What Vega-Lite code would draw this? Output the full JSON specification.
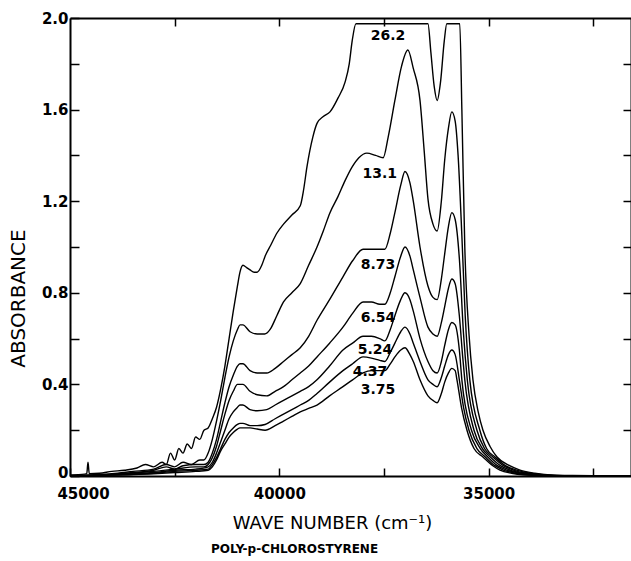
{
  "$schema": "https://vega.github.io/schema/vega-lite/v6.json",
  "width": 561,
  "height": 458,
  "autosize": {"type": "none"},
  "padding": {"left": 70, "top": 18, "right": 0, "bottom": 85},
  "background": "white",
  "config": {
    "view": {"stroke": null},
    "font": "DejaVu Sans",
    "axis": {"grid": false, "domainColor": "black", "tickColor": "black", "labelColor": "black", "titleColor": "black"}
  },
  "title": {"text": "POLY-p-CHLOROSTYRENE", "orient": "bottom", "anchor": "middle", "frame": "group", "dx": -56, "offset": 12, "fontSize": 12, "fontWeight": "bold", "font": "DejaVu Sans", "color": "black"},
  "datasets": {
    "curves": [
      {"c": "26.2", "w": 45000, "a": 0.005}, {"c": "26.2", "w": 44650, "a": 0.008}, {"c": "26.2", "w": 44600, "a": 0.01}, {"c": "26.2", "w": 44570, "a": 0.06}, {"c": "26.2", "w": 44540, "a": 0.01}, {"c": "26.2", "w": 44300, "a": 0.012}, {"c": "26.2", "w": 44000, "a": 0.02}, {"c": "26.2", "w": 43700, "a": 0.025}, {"c": "26.2", "w": 43400, "a": 0.035}, {"c": "26.2", "w": 43200, "a": 0.05}, {"c": "26.2", "w": 43000, "a": 0.04}, {"c": "26.2", "w": 42800, "a": 0.06}, {"c": "26.2", "w": 42700, "a": 0.05}, {"c": "26.2", "w": 42600, "a": 0.1}, {"c": "26.2", "w": 42500, "a": 0.07}, {"c": "26.2", "w": 42400, "a": 0.12}, {"c": "26.2", "w": 42300, "a": 0.1}, {"c": "26.2", "w": 42200, "a": 0.14}, {"c": "26.2", "w": 42100, "a": 0.12}, {"c": "26.2", "w": 42000, "a": 0.17}, {"c": "26.2", "w": 41900, "a": 0.16}, {"c": "26.2", "w": 41800, "a": 0.2}, {"c": "26.2", "w": 41700, "a": 0.21}, {"c": "26.2", "w": 41600, "a": 0.25}, {"c": "26.2", "w": 41500, "a": 0.3}, {"c": "26.2", "w": 41400, "a": 0.38}, {"c": "26.2", "w": 41300, "a": 0.48}, {"c": "26.2", "w": 41200, "a": 0.6}, {"c": "26.2", "w": 41100, "a": 0.72}, {"c": "26.2", "w": 41000, "a": 0.83}, {"c": "26.2", "w": 40940, "a": 0.89}, {"c": "26.2", "w": 40870, "a": 0.92}, {"c": "26.2", "w": 40780, "a": 0.91}, {"c": "26.2", "w": 40700, "a": 0.9}, {"c": "26.2", "w": 40600, "a": 0.89}, {"c": "26.2", "w": 40530, "a": 0.89}, {"c": "26.2", "w": 40420, "a": 0.92}, {"c": "26.2", "w": 40340, "a": 0.96}, {"c": "26.2", "w": 40200, "a": 1.01}, {"c": "26.2", "w": 40060, "a": 1.06}, {"c": "26.2", "w": 39900, "a": 1.1}, {"c": "26.2", "w": 39700, "a": 1.14}, {"c": "26.2", "w": 39500, "a": 1.18}, {"c": "26.2", "w": 39420, "a": 1.25}, {"c": "26.2", "w": 39340, "a": 1.35}, {"c": "26.2", "w": 39200, "a": 1.48}, {"c": "26.2", "w": 39100, "a": 1.54}, {"c": "26.2", "w": 38950, "a": 1.57}, {"c": "26.2", "w": 38790, "a": 1.59}, {"c": "26.2", "w": 38600, "a": 1.65}, {"c": "26.2", "w": 38430, "a": 1.72}, {"c": "26.2", "w": 38330, "a": 1.8}, {"c": "26.2", "w": 38260, "a": 1.9}, {"c": "26.2", "w": 38170, "a": 1.975}, {"c": "26.2", "w": 36450, "a": 1.975}, {"c": "26.2", "w": 36380, "a": 1.85}, {"c": "26.2", "w": 36300, "a": 1.7}, {"c": "26.2", "w": 36230, "a": 1.64}, {"c": "26.2", "w": 36150, "a": 1.72}, {"c": "26.2", "w": 36060, "a": 1.9}, {"c": "26.2", "w": 36000, "a": 1.975}, {"c": "26.2", "w": 35690, "a": 1.975}, {"c": "26.2", "w": 35640, "a": 1.6}, {"c": "26.2", "w": 35570, "a": 1.0}, {"c": "26.2", "w": 35470, "a": 0.62}, {"c": "26.2", "w": 35375, "a": 0.42}, {"c": "26.2", "w": 35250, "a": 0.28}, {"c": "26.2", "w": 35136, "a": 0.2}, {"c": "26.2", "w": 34970, "a": 0.13}, {"c": "26.2", "w": 34800, "a": 0.083}, {"c": "26.2", "w": 34500, "a": 0.045}, {"c": "26.2", "w": 34252, "a": 0.026}, {"c": "26.2", "w": 33900, "a": 0.012}, {"c": "26.2", "w": 33535, "a": 0.005}, {"c": "26.2", "w": 33000, "a": 0.002}, {"c": "26.2", "w": 32000, "a": 0}, {"c": "26.2", "w": 31600, "a": 0},

      {"c": "13.1", "w": 45000, "a": 0}, {"c": "13.1", "w": 44500, "a": 0.005}, {"c": "13.1", "w": 44000, "a": 0.01}, {"c": "13.1", "w": 43500, "a": 0.02}, {"c": "13.1", "w": 43000, "a": 0.03}, {"c": "13.1", "w": 42700, "a": 0.05}, {"c": "13.1", "w": 42500, "a": 0.04}, {"c": "13.1", "w": 42300, "a": 0.06}, {"c": "13.1", "w": 42100, "a": 0.05}, {"c": "13.1", "w": 41900, "a": 0.07}, {"c": "13.1", "w": 41800, "a": 0.07}, {"c": "13.1", "w": 41700, "a": 0.1}, {"c": "13.1", "w": 41600, "a": 0.16}, {"c": "13.1", "w": 41500, "a": 0.24}, {"c": "13.1", "w": 41400, "a": 0.33}, {"c": "13.1", "w": 41300, "a": 0.43}, {"c": "13.1", "w": 41200, "a": 0.52}, {"c": "13.1", "w": 41100, "a": 0.59}, {"c": "13.1", "w": 41000, "a": 0.64}, {"c": "13.1", "w": 40940, "a": 0.66}, {"c": "13.1", "w": 40870, "a": 0.66}, {"c": "13.1", "w": 40700, "a": 0.63}, {"c": "13.1", "w": 40530, "a": 0.62}, {"c": "13.1", "w": 40350, "a": 0.62}, {"c": "13.1", "w": 40220, "a": 0.64}, {"c": "13.1", "w": 40060, "a": 0.7}, {"c": "13.1", "w": 39900, "a": 0.76}, {"c": "13.1", "w": 39700, "a": 0.8}, {"c": "13.1", "w": 39500, "a": 0.84}, {"c": "13.1", "w": 39300, "a": 0.92}, {"c": "13.1", "w": 39100, "a": 1.0}, {"c": "13.1", "w": 38950, "a": 1.07}, {"c": "13.1", "w": 38790, "a": 1.15}, {"c": "13.1", "w": 38600, "a": 1.22}, {"c": "13.1", "w": 38430, "a": 1.29}, {"c": "13.1", "w": 38260, "a": 1.35}, {"c": "13.1", "w": 38100, "a": 1.39}, {"c": "13.1", "w": 37910, "a": 1.41}, {"c": "13.1", "w": 37700, "a": 1.4}, {"c": "13.1", "w": 37520, "a": 1.39}, {"c": "13.1", "w": 37400, "a": 1.48}, {"c": "13.1", "w": 37240, "a": 1.64}, {"c": "13.1", "w": 37080, "a": 1.79}, {"c": "13.1", "w": 36930, "a": 1.86}, {"c": "13.1", "w": 36800, "a": 1.78}, {"c": "13.1", "w": 36640, "a": 1.64}, {"c": "13.1", "w": 36540, "a": 1.42}, {"c": "13.1", "w": 36450, "a": 1.21}, {"c": "13.1", "w": 36330, "a": 1.1}, {"c": "13.1", "w": 36230, "a": 1.07}, {"c": "13.1", "w": 36130, "a": 1.2}, {"c": "13.1", "w": 36050, "a": 1.38}, {"c": "13.1", "w": 35960, "a": 1.52}, {"c": "13.1", "w": 35880, "a": 1.59}, {"c": "13.1", "w": 35800, "a": 1.55}, {"c": "13.1", "w": 35730, "a": 1.4}, {"c": "13.1", "w": 35640, "a": 1.05}, {"c": "13.1", "w": 35560, "a": 0.7}, {"c": "13.1", "w": 35450, "a": 0.42}, {"c": "13.1", "w": 35210, "a": 0.2}, {"c": "13.1", "w": 35050, "a": 0.12}, {"c": "13.1", "w": 34850, "a": 0.083}, {"c": "13.1", "w": 34600, "a": 0.045}, {"c": "13.1", "w": 34330, "a": 0.026}, {"c": "13.1", "w": 34000, "a": 0.012}, {"c": "13.1", "w": 33640, "a": 0.005}, {"c": "13.1", "w": 33000, "a": 0.001}, {"c": "13.1", "w": 32000, "a": 0}, {"c": "13.1", "w": 31600, "a": 0},

      {"c": "8.73", "w": 45000, "a": 0}, {"c": "8.73", "w": 44000, "a": 0.008}, {"c": "8.73", "w": 43500, "a": 0.015}, {"c": "8.73", "w": 43000, "a": 0.025}, {"c": "8.73", "w": 42700, "a": 0.04}, {"c": "8.73", "w": 42500, "a": 0.03}, {"c": "8.73", "w": 42300, "a": 0.045}, {"c": "8.73", "w": 42000, "a": 0.05}, {"c": "8.73", "w": 41800, "a": 0.05}, {"c": "8.73", "w": 41700, "a": 0.06}, {"c": "8.73", "w": 41600, "a": 0.1}, {"c": "8.73", "w": 41500, "a": 0.16}, {"c": "8.73", "w": 41400, "a": 0.24}, {"c": "8.73", "w": 41300, "a": 0.32}, {"c": "8.73", "w": 41200, "a": 0.39}, {"c": "8.73", "w": 41100, "a": 0.44}, {"c": "8.73", "w": 41000, "a": 0.48}, {"c": "8.73", "w": 40940, "a": 0.49}, {"c": "8.73", "w": 40870, "a": 0.49}, {"c": "8.73", "w": 40700, "a": 0.46}, {"c": "8.73", "w": 40530, "a": 0.45}, {"c": "8.73", "w": 40300, "a": 0.45}, {"c": "8.73", "w": 40100, "a": 0.47}, {"c": "8.73", "w": 39900, "a": 0.5}, {"c": "8.73", "w": 39700, "a": 0.53}, {"c": "8.73", "w": 39500, "a": 0.56}, {"c": "8.73", "w": 39300, "a": 0.61}, {"c": "8.73", "w": 39100, "a": 0.68}, {"c": "8.73", "w": 38800, "a": 0.77}, {"c": "8.73", "w": 38480, "a": 0.87}, {"c": "8.73", "w": 38250, "a": 0.94}, {"c": "8.73", "w": 38000, "a": 0.99}, {"c": "8.73", "w": 37800, "a": 0.99}, {"c": "8.73", "w": 37600, "a": 0.99}, {"c": "8.73", "w": 37480, "a": 0.99}, {"c": "8.73", "w": 37350, "a": 1.06}, {"c": "8.73", "w": 37240, "a": 1.15}, {"c": "8.73", "w": 37100, "a": 1.27}, {"c": "8.73", "w": 36999, "a": 1.33}, {"c": "8.73", "w": 36880, "a": 1.28}, {"c": "8.73", "w": 36800, "a": 1.2}, {"c": "8.73", "w": 36640, "a": 1.0}, {"c": "8.73", "w": 36450, "a": 0.83}, {"c": "8.73", "w": 36330, "a": 0.78}, {"c": "8.73", "w": 36230, "a": 0.77}, {"c": "8.73", "w": 36130, "a": 0.86}, {"c": "8.73", "w": 36050, "a": 0.97}, {"c": "8.73", "w": 35960, "a": 1.09}, {"c": "8.73", "w": 35880, "a": 1.15}, {"c": "8.73", "w": 35800, "a": 1.12}, {"c": "8.73", "w": 35700, "a": 0.95}, {"c": "8.73", "w": 35600, "a": 0.62}, {"c": "8.73", "w": 35510, "a": 0.42}, {"c": "8.73", "w": 35280, "a": 0.2}, {"c": "8.73", "w": 35100, "a": 0.12}, {"c": "8.73", "w": 34900, "a": 0.083}, {"c": "8.73", "w": 34650, "a": 0.045}, {"c": "8.73", "w": 34410, "a": 0.026}, {"c": "8.73", "w": 34100, "a": 0.012}, {"c": "8.73", "w": 33750, "a": 0.005}, {"c": "8.73", "w": 33000, "a": 0}, {"c": "8.73", "w": 31600, "a": 0},

      {"c": "6.54", "w": 45000, "a": 0}, {"c": "6.54", "w": 44000, "a": 0.006}, {"c": "6.54", "w": 43000, "a": 0.02}, {"c": "6.54", "w": 42500, "a": 0.03}, {"c": "6.54", "w": 42000, "a": 0.04}, {"c": "6.54", "w": 41800, "a": 0.04}, {"c": "6.54", "w": 41700, "a": 0.05}, {"c": "6.54", "w": 41600, "a": 0.08}, {"c": "6.54", "w": 41500, "a": 0.13}, {"c": "6.54", "w": 41400, "a": 0.2}, {"c": "6.54", "w": 41300, "a": 0.27}, {"c": "6.54", "w": 41200, "a": 0.33}, {"c": "6.54", "w": 41100, "a": 0.37}, {"c": "6.54", "w": 41000, "a": 0.4}, {"c": "6.54", "w": 40940, "a": 0.4}, {"c": "6.54", "w": 40870, "a": 0.4}, {"c": "6.54", "w": 40700, "a": 0.37}, {"c": "6.54", "w": 40530, "a": 0.355}, {"c": "6.54", "w": 40300, "a": 0.35}, {"c": "6.54", "w": 40100, "a": 0.37}, {"c": "6.54", "w": 39900, "a": 0.39}, {"c": "6.54", "w": 39700, "a": 0.42}, {"c": "6.54", "w": 39500, "a": 0.45}, {"c": "6.54", "w": 39300, "a": 0.48}, {"c": "6.54", "w": 39100, "a": 0.52}, {"c": "6.54", "w": 38800, "a": 0.58}, {"c": "6.54", "w": 38480, "a": 0.65}, {"c": "6.54", "w": 38250, "a": 0.71}, {"c": "6.54", "w": 38000, "a": 0.76}, {"c": "6.54", "w": 37800, "a": 0.76}, {"c": "6.54", "w": 37600, "a": 0.75}, {"c": "6.54", "w": 37480, "a": 0.75}, {"c": "6.54", "w": 37350, "a": 0.8}, {"c": "6.54", "w": 37240, "a": 0.87}, {"c": "6.54", "w": 37100, "a": 0.96}, {"c": "6.54", "w": 36999, "a": 1.0}, {"c": "6.54", "w": 36880, "a": 0.96}, {"c": "6.54", "w": 36800, "a": 0.9}, {"c": "6.54", "w": 36640, "a": 0.78}, {"c": "6.54", "w": 36450, "a": 0.65}, {"c": "6.54", "w": 36330, "a": 0.62}, {"c": "6.54", "w": 36230, "a": 0.61}, {"c": "6.54", "w": 36130, "a": 0.67}, {"c": "6.54", "w": 36050, "a": 0.74}, {"c": "6.54", "w": 35960, "a": 0.82}, {"c": "6.54", "w": 35880, "a": 0.86}, {"c": "6.54", "w": 35800, "a": 0.84}, {"c": "6.54", "w": 35700, "a": 0.7}, {"c": "6.54", "w": 35620, "a": 0.52}, {"c": "6.54", "w": 35570, "a": 0.42}, {"c": "6.54", "w": 35350, "a": 0.2}, {"c": "6.54", "w": 35150, "a": 0.12}, {"c": "6.54", "w": 34960, "a": 0.083}, {"c": "6.54", "w": 34720, "a": 0.045}, {"c": "6.54", "w": 34490, "a": 0.026}, {"c": "6.54", "w": 34180, "a": 0.012}, {"c": "6.54", "w": 33850, "a": 0.005}, {"c": "6.54", "w": 33000, "a": 0}, {"c": "6.54", "w": 31600, "a": 0},

      {"c": "5.24", "w": 45000, "a": 0}, {"c": "5.24", "w": 44000, "a": 0.005}, {"c": "5.24", "w": 43000, "a": 0.015}, {"c": "5.24", "w": 42500, "a": 0.025}, {"c": "5.24", "w": 42000, "a": 0.03}, {"c": "5.24", "w": 41700, "a": 0.04}, {"c": "5.24", "w": 41600, "a": 0.06}, {"c": "5.24", "w": 41500, "a": 0.1}, {"c": "5.24", "w": 41400, "a": 0.15}, {"c": "5.24", "w": 41300, "a": 0.2}, {"c": "5.24", "w": 41200, "a": 0.25}, {"c": "5.24", "w": 41100, "a": 0.28}, {"c": "5.24", "w": 41000, "a": 0.3}, {"c": "5.24", "w": 40940, "a": 0.31}, {"c": "5.24", "w": 40870, "a": 0.31}, {"c": "5.24", "w": 40700, "a": 0.29}, {"c": "5.24", "w": 40530, "a": 0.285}, {"c": "5.24", "w": 40300, "a": 0.29}, {"c": "5.24", "w": 40100, "a": 0.31}, {"c": "5.24", "w": 39900, "a": 0.33}, {"c": "5.24", "w": 39700, "a": 0.35}, {"c": "5.24", "w": 39500, "a": 0.37}, {"c": "5.24", "w": 39300, "a": 0.39}, {"c": "5.24", "w": 39100, "a": 0.42}, {"c": "5.24", "w": 38800, "a": 0.48}, {"c": "5.24", "w": 38480, "a": 0.55}, {"c": "5.24", "w": 38250, "a": 0.58}, {"c": "5.24", "w": 38000, "a": 0.61}, {"c": "5.24", "w": 37800, "a": 0.61}, {"c": "5.24", "w": 37600, "a": 0.6}, {"c": "5.24", "w": 37480, "a": 0.59}, {"c": "5.24", "w": 37350, "a": 0.64}, {"c": "5.24", "w": 37240, "a": 0.7}, {"c": "5.24", "w": 37100, "a": 0.77}, {"c": "5.24", "w": 36999, "a": 0.8}, {"c": "5.24", "w": 36880, "a": 0.77}, {"c": "5.24", "w": 36800, "a": 0.72}, {"c": "5.24", "w": 36640, "a": 0.6}, {"c": "5.24", "w": 36450, "a": 0.5}, {"c": "5.24", "w": 36330, "a": 0.46}, {"c": "5.24", "w": 36230, "a": 0.45}, {"c": "5.24", "w": 36130, "a": 0.5}, {"c": "5.24", "w": 36050, "a": 0.57}, {"c": "5.24", "w": 35960, "a": 0.64}, {"c": "5.24", "w": 35880, "a": 0.67}, {"c": "5.24", "w": 35800, "a": 0.66}, {"c": "5.24", "w": 35700, "a": 0.55}, {"c": "5.24", "w": 35640, "a": 0.42}, {"c": "5.24", "w": 35410, "a": 0.2}, {"c": "5.24", "w": 35200, "a": 0.12}, {"c": "5.24", "w": 35020, "a": 0.083}, {"c": "5.24", "w": 34790, "a": 0.045}, {"c": "5.24", "w": 34570, "a": 0.026}, {"c": "5.24", "w": 34260, "a": 0.012}, {"c": "5.24", "w": 33960, "a": 0.005}, {"c": "5.24", "w": 33200, "a": 0}, {"c": "5.24", "w": 31600, "a": 0},

      {"c": "4.37", "w": 45000, "a": 0}, {"c": "4.37", "w": 44000, "a": 0.004}, {"c": "4.37", "w": 43000, "a": 0.012}, {"c": "4.37", "w": 42500, "a": 0.02}, {"c": "4.37", "w": 42000, "a": 0.025}, {"c": "4.37", "w": 41700, "a": 0.03}, {"c": "4.37", "w": 41600, "a": 0.05}, {"c": "4.37", "w": 41500, "a": 0.08}, {"c": "4.37", "w": 41400, "a": 0.12}, {"c": "4.37", "w": 41300, "a": 0.16}, {"c": "4.37", "w": 41200, "a": 0.19}, {"c": "4.37", "w": 41100, "a": 0.21}, {"c": "4.37", "w": 41000, "a": 0.225}, {"c": "4.37", "w": 40940, "a": 0.23}, {"c": "4.37", "w": 40870, "a": 0.23}, {"c": "4.37", "w": 40700, "a": 0.22}, {"c": "4.37", "w": 40530, "a": 0.22}, {"c": "4.37", "w": 40340, "a": 0.225}, {"c": "4.37", "w": 40100, "a": 0.25}, {"c": "4.37", "w": 39900, "a": 0.27}, {"c": "4.37", "w": 39700, "a": 0.29}, {"c": "4.37", "w": 39500, "a": 0.31}, {"c": "4.37", "w": 39300, "a": 0.33}, {"c": "4.37", "w": 39100, "a": 0.36}, {"c": "4.37", "w": 38800, "a": 0.41}, {"c": "4.37", "w": 38480, "a": 0.46}, {"c": "4.37", "w": 38250, "a": 0.49}, {"c": "4.37", "w": 38000, "a": 0.52}, {"c": "4.37", "w": 37800, "a": 0.515}, {"c": "4.37", "w": 37600, "a": 0.505}, {"c": "4.37", "w": 37480, "a": 0.5}, {"c": "4.37", "w": 37350, "a": 0.54}, {"c": "4.37", "w": 37240, "a": 0.58}, {"c": "4.37", "w": 37100, "a": 0.63}, {"c": "4.37", "w": 36999, "a": 0.65}, {"c": "4.37", "w": 36880, "a": 0.62}, {"c": "4.37", "w": 36800, "a": 0.58}, {"c": "4.37", "w": 36640, "a": 0.5}, {"c": "4.37", "w": 36450, "a": 0.42}, {"c": "4.37", "w": 36330, "a": 0.4}, {"c": "4.37", "w": 36230, "a": 0.39}, {"c": "4.37", "w": 36130, "a": 0.43}, {"c": "4.37", "w": 36050, "a": 0.48}, {"c": "4.37", "w": 35960, "a": 0.53}, {"c": "4.37", "w": 35880, "a": 0.55}, {"c": "4.37", "w": 35800, "a": 0.53}, {"c": "4.37", "w": 35700, "a": 0.42}, {"c": "4.37", "w": 35600, "a": 0.3}, {"c": "4.37", "w": 35470, "a": 0.2}, {"c": "4.37", "w": 35280, "a": 0.12}, {"c": "4.37", "w": 35080, "a": 0.083}, {"c": "4.37", "w": 34850, "a": 0.045}, {"c": "4.37", "w": 34650, "a": 0.026}, {"c": "4.37", "w": 34350, "a": 0.012}, {"c": "4.37", "w": 34070, "a": 0.005}, {"c": "4.37", "w": 33400, "a": 0}, {"c": "4.37", "w": 31600, "a": 0},

      {"c": "3.75", "w": 45000, "a": 0}, {"c": "3.75", "w": 44000, "a": 0.004}, {"c": "3.75", "w": 43000, "a": 0.01}, {"c": "3.75", "w": 42500, "a": 0.015}, {"c": "3.75", "w": 42000, "a": 0.02}, {"c": "3.75", "w": 41700, "a": 0.025}, {"c": "3.75", "w": 41600, "a": 0.04}, {"c": "3.75", "w": 41500, "a": 0.07}, {"c": "3.75", "w": 41400, "a": 0.11}, {"c": "3.75", "w": 41300, "a": 0.14}, {"c": "3.75", "w": 41200, "a": 0.17}, {"c": "3.75", "w": 41100, "a": 0.19}, {"c": "3.75", "w": 41000, "a": 0.205}, {"c": "3.75", "w": 40940, "a": 0.21}, {"c": "3.75", "w": 40870, "a": 0.21}, {"c": "3.75", "w": 40700, "a": 0.21}, {"c": "3.75", "w": 40530, "a": 0.205}, {"c": "3.75", "w": 40340, "a": 0.2}, {"c": "3.75", "w": 40100, "a": 0.22}, {"c": "3.75", "w": 39900, "a": 0.24}, {"c": "3.75", "w": 39700, "a": 0.26}, {"c": "3.75", "w": 39500, "a": 0.28}, {"c": "3.75", "w": 39300, "a": 0.295}, {"c": "3.75", "w": 39100, "a": 0.31}, {"c": "3.75", "w": 38800, "a": 0.35}, {"c": "3.75", "w": 38480, "a": 0.39}, {"c": "3.75", "w": 38250, "a": 0.42}, {"c": "3.75", "w": 38000, "a": 0.45}, {"c": "3.75", "w": 37800, "a": 0.46}, {"c": "3.75", "w": 37600, "a": 0.46}, {"c": "3.75", "w": 37480, "a": 0.46}, {"c": "3.75", "w": 37350, "a": 0.49}, {"c": "3.75", "w": 37240, "a": 0.52}, {"c": "3.75", "w": 37100, "a": 0.55}, {"c": "3.75", "w": 36999, "a": 0.56}, {"c": "3.75", "w": 36880, "a": 0.53}, {"c": "3.75", "w": 36800, "a": 0.5}, {"c": "3.75", "w": 36640, "a": 0.42}, {"c": "3.75", "w": 36450, "a": 0.35}, {"c": "3.75", "w": 36330, "a": 0.33}, {"c": "3.75", "w": 36230, "a": 0.32}, {"c": "3.75", "w": 36130, "a": 0.36}, {"c": "3.75", "w": 36050, "a": 0.41}, {"c": "3.75", "w": 35960, "a": 0.45}, {"c": "3.75", "w": 35880, "a": 0.47}, {"c": "3.75", "w": 35800, "a": 0.46}, {"c": "3.75", "w": 35757, "a": 0.42}, {"c": "3.75", "w": 35650, "a": 0.3}, {"c": "3.75", "w": 35518, "a": 0.2}, {"c": "3.75", "w": 35350, "a": 0.12}, {"c": "3.75", "w": 35136, "a": 0.083}, {"c": "3.75", "w": 34900, "a": 0.045}, {"c": "3.75", "w": 34730, "a": 0.026}, {"c": "3.75", "w": 34450, "a": 0.012}, {"c": "3.75", "w": 34180, "a": 0.005}, {"c": "3.75", "w": 33500, "a": 0}, {"c": "3.75", "w": 31600, "a": 0}
    ],
    "labels": [
      {"t": "26.2", "w": 37404, "a": 1.92},
      {"t": "13.1", "w": 37600, "a": 1.32},
      {"t": "8.73", "w": 37643, "a": 0.92},
      {"t": "6.54", "w": 37643, "a": 0.69},
      {"t": "5.24", "w": 37715, "a": 0.55},
      {"t": "4.37", "w": 37835, "a": 0.455},
      {"t": "3.75", "w": 37643, "a": 0.375}
    ]
  },
  "layer": [
    {
      "data": {"name": "curves"},
      "mark": {"type": "line", "color": "black", "strokeWidth": 1.4, "interpolate": "monotone"},
      "encoding": {
        "x": {
          "field": "w", "type": "quantitative",
          "scale": {"domain": [31600, 45000], "reverse": true, "nice": false, "zero": false},
          "axis": {
            "orient": "bottom",
            "values": [45000, 42500, 40000, 37500, 35000, 32500],
            "format": "d",
            "labelExpr": "datum.value % 5000 === 0 ? datum.label : ''",
            "labelOverlap": false,
            "labelFlush": false,
            "labelBound": false,
            "tickSize": -8, "tickWidth": 1.5, "domainWidth": 2,
            "labelPadding": 18, "labelFontSize": 15, "labelFontWeight": "bold", "labelFont": "DejaVu Sans",
            "labelOffset": {"condition": {"test": "datum.value === 45000", "value": 13}, "value": 0},
            "title": "WAVE NUMBER (cm⁻¹)",
            "titleFontSize": 18, "titleFontWeight": "normal", "titleFont": "DejaVu Sans",
            "titleX": 262, "titleY": 47, "titleAlign": "center", "titleBaseline": "middle"
          }
        },
        "y": {
          "field": "a", "type": "quantitative",
          "scale": {"domain": [0, 2], "nice": false, "zero": true},
          "axis": {
            "orient": "left",
            "values": [0, 0.2, 0.4, 0.6, 0.8, 1.0, 1.2, 1.4, 1.6, 1.8, 2.0],
            "labelExpr": "datum.value === 0 ? '0' : (round(datum.value * 10) % 4 === 0 ? format(datum.value, '.1f') : '')",
            "labelOverlap": false,
            "labelFlush": false,
            "labelBound": false,
            "labelOffset": {"condition": {"test": "datum.value === 0", "value": -4}, "value": 0},
            "tickSize": -9, "tickWidth": 1.5, "domainWidth": 2,
            "labelPadding": 11, "labelFontSize": 15, "labelFontWeight": "bold", "labelFont": "DejaVu Sans",
            "title": "ABSORBANCE",
            "titleFontSize": 20, "titleFontWeight": "normal", "titleFont": "DejaVu Sans",
            "titleX": -52, "titleY": 280, "titleAngle": -90, "titleAlign": "center", "titleBaseline": "middle"
          }
        },
        "detail": {"field": "c", "type": "nominal"}
      }
    },
    {
      "data": {"name": "labels"},
      "mark": {"type": "text", "fontSize": 14, "fontWeight": "bold", "font": "DejaVu Sans", "color": "black"},
      "encoding": {
        "x": {
          "field": "w", "type": "quantitative",
          "scale": {"domain": [31600, 45000], "reverse": true, "nice": false, "zero": false},
          "axis": {"orient": "top", "values": [42500, 40000, 37500, 35000, 32500], "labels": false, "tickSize": -8, "tickWidth": 1.5, "domainWidth": 2, "title": null}
        },
        "y": {
          "field": "a", "type": "quantitative",
          "scale": {"domain": [0, 2], "nice": false, "zero": true},
          "axis": {"orient": "right", "values": [0.2, 0.4, 0.6, 0.8, 1.0, 1.2, 1.4, 1.6, 1.8], "labels": false, "tickSize": -8, "tickWidth": 1.5, "domainWidth": 2, "title": null}
        },
        "text": {"field": "t"}
      }
    }
  ],
  "resolve": {"axis": {"x": "independent", "y": "independent"}}
}
